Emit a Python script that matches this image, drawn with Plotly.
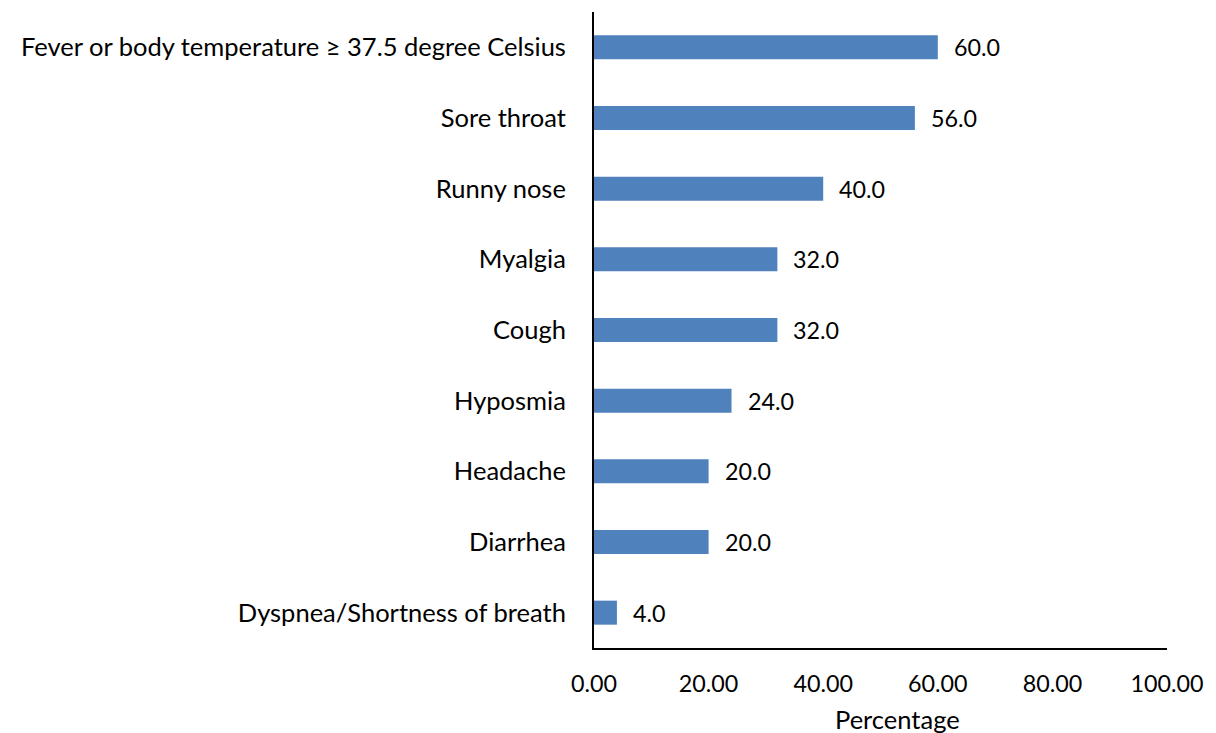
import plotly.graph_objects as go

# Symptom categories, listed bottom to top as drawn on the y axis
symptoms = [
    "Dyspnea/Shortness of breath",
    "Diarrhea",
    "Headache",
    "Hyposmia",
    "Cough",
    "Myalgia",
    "Runny nose",
    "Sore throat",
    "Fever or body temperature \u2265 37.5 degree Celsius",
]
percentages = [4.0, 20.0, 20.0, 24.0, 32.0, 32.0, 40.0, 56.0, 60.0]
x_ticks = [0, 20, 40, 60, 80, 100]
x_tick_labels = ["0.00", "20.00", "40.00", "60.00", "80.00", "100.00"]

FONT = "Lato, Calibri, Carlito, sans-serif"
LABEL_SIZE = 25.5   # category names and axis title
NUMBER_SIZE = 23.3  # tick numbers and value labels

fig = go.Figure(
    go.Bar(
        x=percentages,
        y=symptoms,
        orientation="h",
        marker=dict(color="#4F81BD", line=dict(width=0)),
        hoverinfo="skip",
    )
)

# Value labels beside each bar
for val, cat in zip(percentages, symptoms):
    fig.add_annotation(
        x=val, y=cat, text=f"{val:.1f}", showarrow=False,
        xanchor="left", xshift=14, yshift=0,
        font=dict(family=FONT, size=NUMBER_SIZE, color="#000000"),
    )

# Axis title
fig.add_annotation(
    x=0.53, y=0, xref="paper", yref="paper", yshift=-71,
    text="Percentage", showarrow=False, xanchor="center", yanchor="middle",
    font=dict(family=FONT, size=LABEL_SIZE, color="#000000"),
)

fig.update_layout(
    width=1216, height=733,
    margin=dict(l=594, r=43, t=12, b=85),
    paper_bgcolor="white", plot_bgcolor="white",
    bargap=0.66,
    showlegend=False,
    font=dict(family=FONT, size=LABEL_SIZE, color="#000000"),
)
fig.update_xaxes(
    range=[0, 100], tickvals=x_ticks, ticktext=x_tick_labels,
    showgrid=False, zeroline=False, showline=True, linecolor="#000000",
    linewidth=2, ticks="", ticklabelstandoff=14,
    tickfont=dict(family=FONT, size=NUMBER_SIZE, color="#000000"),
)
fig.update_yaxes(
    categoryorder="array", categoryarray=symptoms,
    showgrid=False, zeroline=False, showline=True, linecolor="#000000",
    linewidth=2, ticks="", ticklabelstandoff=21,
    tickfont=dict(family=FONT, size=LABEL_SIZE, color="#000000"),
)

fig.write_html("out.html")
